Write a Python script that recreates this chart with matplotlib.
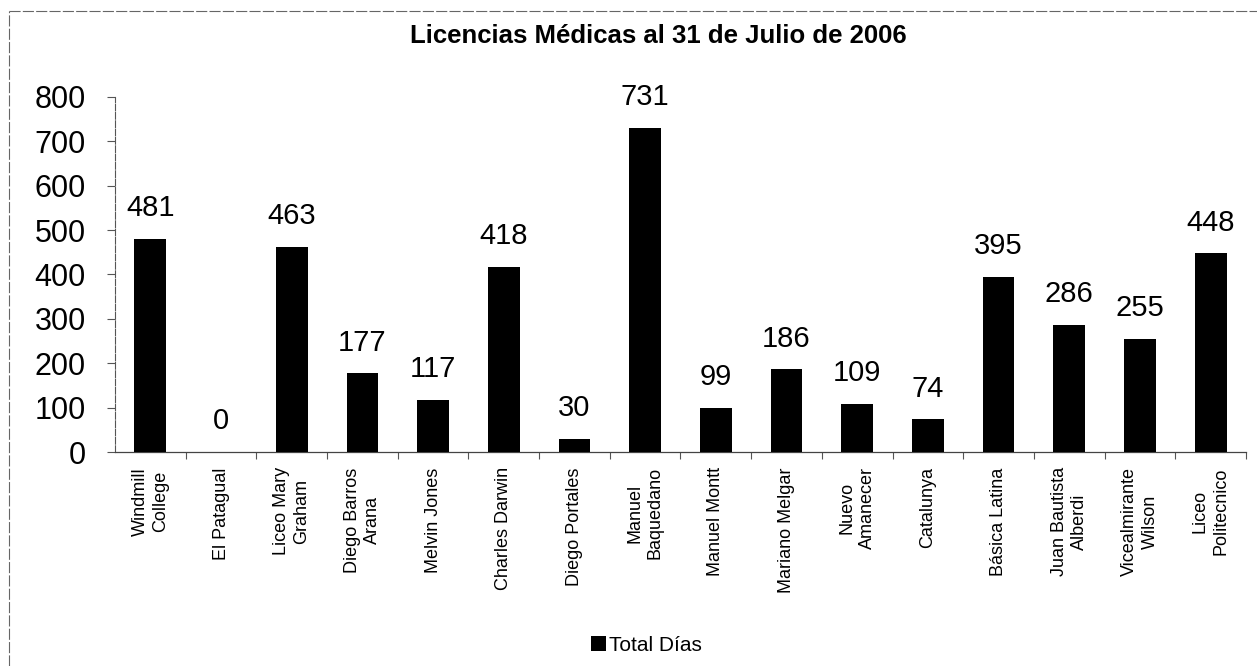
import matplotlib
matplotlib.use("Agg")
import matplotlib.pyplot as plt
from matplotlib.lines import Line2D

plt.rcParams['font.family'] = ['Liberation Sans', 'DejaVu Sans']

categories = ["Windmill\nCollege", "El Patagual", "Liceo Mary\nGraham", "Diego Barros\nArana",
              "Melvin Jones", "Charles Darwin", "Diego Portales", "Manuel\nBaquedano",
              "Manuel Montt", "Mariano Melgar", "Nuevo\nAmanecer", "Catalunya",
              "Básica Latina", "Juan Bautista\nAlberdi", "Vicealmirante\nWilson", "Liceo\nPolitecnico"]
total_dias = [481, 0, 463, 177, 117, 418, 30, 731, 99, 186, 109, 74, 395, 286, 255, 448]
yticks = [0, 100, 200, 300, 400, 500, 600, 700, 800]
title = "Licencias Médicas al 31 de Julio de 2006"
series_name = "Total Días"

fig = plt.figure(figsize=(12.57, 6.66), dpi=100)
ax = fig.add_axes([0.0915, 0.3213, 0.8997, 0.5331])

x = list(range(len(categories)))
bars = ax.bar(x, total_dias, width=0.45, color='black', label=series_name, zorder=3)

for xi, v in zip(x, total_dias):
    ax.annotate(str(v), (xi, v), xytext=(0, 12), textcoords='offset points',
                ha='center', va='bottom', fontsize=21)

ax.set_xlim(-0.5, len(categories) - 0.5)
ax.set_ylim(0, 800)
ax.set_yticks(yticks)
ax.set_yticklabels([str(t) for t in yticks], fontsize=22)
ax.tick_params(axis='y', length=6, width=0.8, color='#555555', pad=15)

ax.set_xticks(x)
ax.set_xticklabels(categories, rotation=90, fontsize=13, linespacing=1.25,
                   multialignment='center', va='top', ha='center')
ax.tick_params(axis='x', which='major', length=0, pad=11)
ax.set_xticks([i + 0.5 for i in x], minor=True)
ax.tick_params(axis='x', which='minor', length=5, width=0.8, color='#555555')

for s in ['top', 'right']:
    ax.spines[s].set_visible(False)
ax.spines['left'].set_color('#555555')
ax.spines['left'].set_linestyle((0, (6, 1.5)))
ax.spines['left'].set_linewidth(0.8)
ax.spines['bottom'].set_color('#444444')
ax.spines['bottom'].set_linewidth(0.9)

fig.text(0.5235, 0.9354, title, ha='center', va='baseline', fontsize=18.5, fontweight='bold')

leg = fig.legend(handles=[bars], labels=[series_name], loc='center',
                 bbox_to_anchor=(0.514, 0.031), fontsize=15, frameon=False,
                 handlelength=0.75, handleheight=0.75, handletextpad=0.1,
                 borderpad=0.3)

# outer chart border (top and left visible in reference)
fig.add_artist(Line2D([9 / 1257, 1.0], [1 - 11 / 666, 1 - 11 / 666], transform=fig.transFigure,
                      color='#666666', linewidth=0.8, linestyle=(0, (10, 2))))
fig.add_artist(Line2D([9 / 1257, 9 / 1257], [0, 1 - 11 / 666], transform=fig.transFigure,
                      color='#666666', linewidth=0.8, linestyle=(0, (10, 2))))

fig.savefig("out.png", dpi=100)
